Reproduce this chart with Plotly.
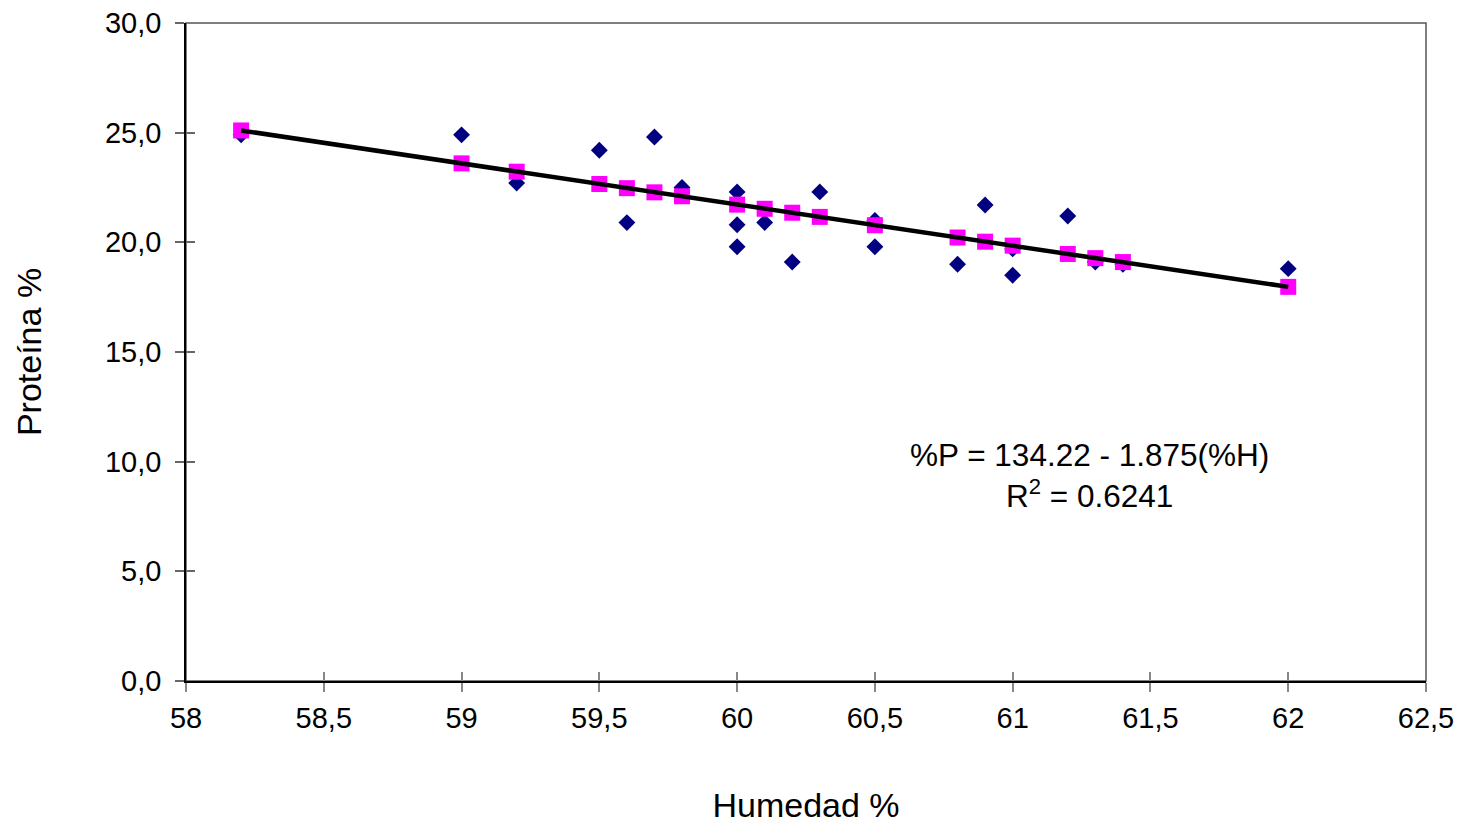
import plotly.graph_objects as go

# Observed values
humedad = [58.2, 59.0, 59.2, 59.5, 59.6, 59.7, 59.8, 60.0, 60.0, 60.0,
           60.1, 60.2, 60.3, 60.5, 60.5, 60.8, 60.9, 61.0, 61.0, 61.2,
           61.3, 61.4, 62.0]
proteina = [24.9, 24.9, 22.7, 24.2, 20.9, 24.8, 22.5, 22.3, 20.8, 19.8,
            20.9, 19.1, 22.3, 21.0, 19.8, 19.0, 21.7, 19.7, 18.5, 21.2,
            19.1, 19.0, 18.8]

# Predicted values (regression)
humedad_pred = [58.2, 59.0, 59.2, 59.5, 59.6, 59.7, 59.8, 60.0, 60.1, 60.2,
                60.3, 60.5, 60.8, 60.9, 61.0, 61.2, 61.3, 61.4, 62.0]
proteina_pred = [25.10, 23.60, 23.22, 22.66, 22.47, 22.28, 22.10, 21.72, 21.53, 21.35,
                 21.16, 20.78, 20.22, 20.03, 19.85, 19.47, 19.28, 19.10, 17.97]

font = "Liberation Sans, Arial, sans-serif"

fig = go.Figure()
fig.add_trace(go.Scatter(x=humedad, y=proteina, mode="markers",
                         marker=dict(symbol="diamond", size=13, color="#000080")))
fig.add_trace(go.Scatter(x=humedad_pred, y=proteina_pred, mode="markers",
                         marker=dict(symbol="square", size=16, color="#FF00FF")))
fig.add_trace(go.Scatter(x=[humedad_pred[0], humedad_pred[-1]],
                         y=[proteina_pred[0], proteina_pred[-1]], mode="lines",
                         line=dict(color="black", width=4.5)))

# second pair of axes only to draw the inner half of the crossing ticks
fig.add_trace(go.Scatter(x=[58], y=[0], xaxis="x2", yaxis="y2", mode="markers",
                         marker=dict(opacity=0), hoverinfo="skip"))

fig.add_annotation(x=61.28, y=9.35, xref="x", yref="y",
                   text="%P = 134.22 - 1.875(%H)<br>R<sup>2</sup> = 0.6241",
                   showarrow=False, font=dict(size=31.5, color="black", family=font),
                   align="center")

fig.add_shape(type="rect", xref="paper", yref="paper", x0=0, y0=0, x1=1, y1=1,
              line=dict(color="#555555", width=1.5), layer="below")

# page body has an 8px margin, so the figure is a bit smaller than the window
fig.update_layout(
    width=1460, height=819,
    margin=dict(l=178, r=42, t=15, b=146),
    plot_bgcolor="white", paper_bgcolor="white",
    showlegend=False,
    separators=",.",
    font=dict(family=font, color="black", size=29),
    xaxis=dict(range=[58, 62.5], dtick=0.5, tick0=58, showgrid=False, zeroline=False,
               showline=True, linecolor="black", linewidth=1.5, automargin=False,
               ticks="outside", ticklen=9, tickcolor="#888888", tickwidth=1.5,
               tickfont=dict(size=29), ticklabelstandoff=1, ticklabeloverflow="allow",
               title=dict(text="Humedad %", font=dict(size=34), standoff=61)),
    yaxis=dict(range=[0, 30], dtick=5, tickformat=".1f", showgrid=False, zeroline=False,
               showline=True, linecolor="black", linewidth=1.5, automargin=False,
               ticks="outside", ticklen=9, tickcolor="#666666", tickwidth=1.5,
               tickfont=dict(size=29), ticklabelstandoff=8, ticklabeloverflow="allow",
               title=dict(text="Proteína %", font=dict(size=34), standoff=53)),
    xaxis2=dict(range=[58, 62.5], dtick=0.5, tick0=58, overlaying="x", side="bottom",
                showgrid=False, zeroline=False, showticklabels=False, automargin=False,
                ticks="inside", ticklen=9, tickcolor="#888888", tickwidth=1.5),
    yaxis2=dict(range=[0, 30], dtick=5, overlaying="y", side="left",
                showgrid=False, zeroline=False, showticklabels=False, automargin=False,
                ticks="inside", ticklen=9, tickcolor="#666666", tickwidth=1.5),
)

fig.write_html("out.html")
